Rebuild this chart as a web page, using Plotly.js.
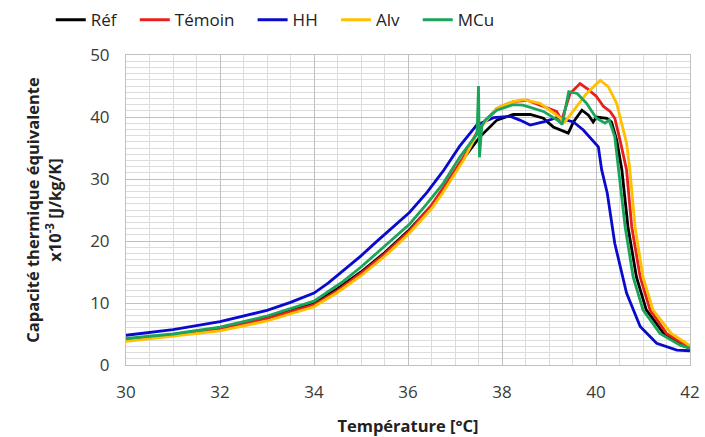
<!DOCTYPE html>
<html>
<head>
<meta charset="utf-8">
<script src="https://cdn.plot.ly/plotly-3.0.1.min.js"></script>
<style>html,body{margin:0;padding:0;background:#fff;}#chart{width:705px;height:437px;}</style>
</head>
<body>
<div id="chart"></div>
<script>
// Réf (black)
const refT = [30, 31, 32, 33, 34, 34.5, 35, 35.5, 36, 36.5, 36.75, 37.1, 37.53, 37.89, 38.24, 38.6, 38.88, 39.09, 39.41, 39.52, 39.7, 39.84, 39.94, 40.01, 40.23, 40.33, 40.44, 40.55, 40.68, 40.86, 41.07, 41.45, 41.85, 42];
const refC = [4.1, 4.9, 5.9, 7.6, 9.9, 12.3, 15.0, 18.1, 21.6, 25.7, 28.2, 32.5, 36.8, 39.5, 40.4, 40.4, 39.8, 38.4, 37.4, 39.2, 41.1, 40.3, 39.2, 40.0, 39.8, 39.2, 36.3, 31.5, 22.3, 14.2, 8.9, 5.0, 3.1, 2.7];
// Témoin (red)
const temT = [30, 31, 32, 33, 34, 34.5, 35, 35.5, 36, 36.5, 36.75, 37.18, 37.53, 37.89, 38.24, 38.53, 38.81, 39.16, 39.27, 39.45, 39.66, 39.84, 40.01, 40.16, 40.3, 40.4, 40.51, 40.65, 40.76, 40.94, 41.15, 41.5, 41.91, 42];
const temC = [4.1, 4.8, 5.8, 7.5, 9.7, 12.0, 14.8, 17.9, 21.4, 25.8, 28.6, 33.5, 38.4, 41.4, 42.5, 42.7, 41.9, 40.9, 39.5, 43.8, 45.4, 44.4, 43.3, 41.7, 40.9, 39.8, 36.3, 31.5, 22.3, 14.2, 8.9, 5.1, 3.2, 3.0];
// HH (blue)
const hhT = [30, 31, 32, 33, 33.5, 34, 34.3, 34.62, 35, 35.33, 35.66, 36.03, 36.4, 36.75, 37.1, 37.46, 37.82, 38.18, 38.38, 38.6, 38.88, 39.16, 39.38, 39.52, 39.73, 39.91, 40.05, 40.12, 40.24, 40.4, 40.65, 40.94, 41.29, 41.72, 42];
const hhC = [4.8, 5.7, 7.0, 8.8, 10.1, 11.6, 13.2, 15.2, 17.6, 19.9, 22.1, 24.6, 27.8, 31.3, 35.3, 38.7, 39.9, 40.1, 39.5, 38.7, 39.2, 39.9, 39.5, 39.2, 37.9, 36.3, 35.2, 31.5, 27.7, 19.6, 11.6, 6.2, 3.5, 2.4, 2.3];
// Alv (gold)
const alvT = [30, 31, 32, 33, 34, 34.5, 35, 35.5, 36, 36.5, 36.75, 37.18, 37.53, 37.89, 38.24, 38.45, 38.81, 39.16, 39.34, 39.59, 39.8, 40.09, 40.26, 40.44, 40.55, 40.65, 40.72, 40.83, 41.0, 41.21, 41.6, 41.97, 42];
const alvC = [3.8, 4.6, 5.5, 7.1, 9.4, 11.7, 14.4, 17.5, 21.0, 25.2, 27.9, 33.0, 38.2, 41.4, 42.5, 42.8, 42.2, 40.3, 39.2, 41.7, 43.8, 45.9, 44.9, 42.2, 39.0, 35.8, 31.5, 22.3, 14.2, 8.9, 5.1, 3.2, 3.1];
// MCu (green)
const mcuT = [30, 31, 32, 33, 34, 34.62, 35, 35.33, 35.66, 36.03, 36.4, 36.75, 37.1, 37.39, 37.47, 37.5, 37.52, 37.57, 37.64, 37.89, 38.24, 38.45, 38.88, 39.2, 39.28, 39.42, 39.6, 39.8, 40.01, 40.19, 40.28, 40.4, 40.48, 40.62, 40.79, 41.0, 41.36, 41.79, 42];
const mcuC = [4.3, 5.0, 6.1, 7.9, 10.3, 13.5, 15.8, 18.0, 20.3, 22.7, 26.0, 29.3, 33.5, 36.6, 37.3, 45.0, 33.5, 38.5, 39.5, 41.1, 42.0, 41.9, 40.9, 39.4, 38.8, 44.1, 43.8, 42.2, 39.8, 39.0, 39.5, 36.8, 31.5, 22.3, 14.2, 8.9, 5.1, 3.2, 2.7];

const names = ['Réf\u00a0\u00a0\u00a0', 'Témoin\u00a0\u00a0\u00a0', 'HH\u00a0\u00a0\u00a0', 'Alv\u00a0\u00a0\u00a0', 'MCu'];
const colors = ['#000000', '#e8201c', '#0a0acd', '#ffc000', '#1aa55a'];
const xs = [refT, temT, hhT, alvT, mcuT];
const ys = [refC, temC, hhC, alvC, mcuC];

const traces = xs.map((x, i) => ({
  x: x, y: ys[i], type: 'scatter', mode: 'lines', name: names[i],
  line: {color: colors[i], width: 2.8}
}));

const font = "'Open Sans', 'Noto Sans', sans-serif";
const layout = {
  width: 705, height: 437,
  margin: {l: 126, r: 15, t: 55, b: 72},
  paper_bgcolor: '#ffffff', plot_bgcolor: '#ffffff',
  font: {family: font, size: 17, color: '#3a3a3a'},
  showlegend: true,
  legend: {
    orientation: 'h', xref: 'container', yref: 'container',
    x: 0.072, xanchor: 'left', y: 0.995, yanchor: 'top',
    font: {family: font, size: 17, color: '#222'},
    itemwidth: 30, tracegroupgap: 0, bgcolor: 'rgba(0,0,0,0)'
  },
  xaxis: {
    range: [30, 42], dtick: 2, tick0: 30, showgrid: true,
    gridcolor: '#c0c0c0', gridwidth: 1,
    minor: {dtick: 0.5, showgrid: true, gridcolor: '#dcdcdc', gridwidth: 1},
    showline: true, linecolor: '#c0c0c0', mirror: true, zeroline: false,
    ticks: '', ticklabelstandoff: 12,
    tickfont: {family: font, size: 17, color: '#3a3a3a'},
    title: {text: 'Température [°C]', standoff: 18, font: {family: font, size: 16.5, color: '#222', weight: 'bold'}}
  },
  yaxis: {
    range: [0, 50], dtick: 10, tick0: 0, showgrid: true,
    gridcolor: '#c0c0c0', gridwidth: 1,
    minor: {dtick: 1, showgrid: true, gridcolor: '#dcdcdc', gridwidth: 1},
    showline: true, linecolor: '#c0c0c0', mirror: true, zeroline: false,
    ticks: '', ticklabelstandoff: 12,
    tickfont: {family: font, size: 17, color: '#3a3a3a'},
    title: {text: 'Capacité thermique équivalente<br>x10<sup>-3</sup> [J/kg/K]', standoff: 24, font: {family: font, size: 16.5, color: '#222', weight: 'bold'}}
  }
};
Plotly.newPlot('chart', traces, layout, {displayModeBar: false, staticPlot: true});
</script>
</body>
</html>
